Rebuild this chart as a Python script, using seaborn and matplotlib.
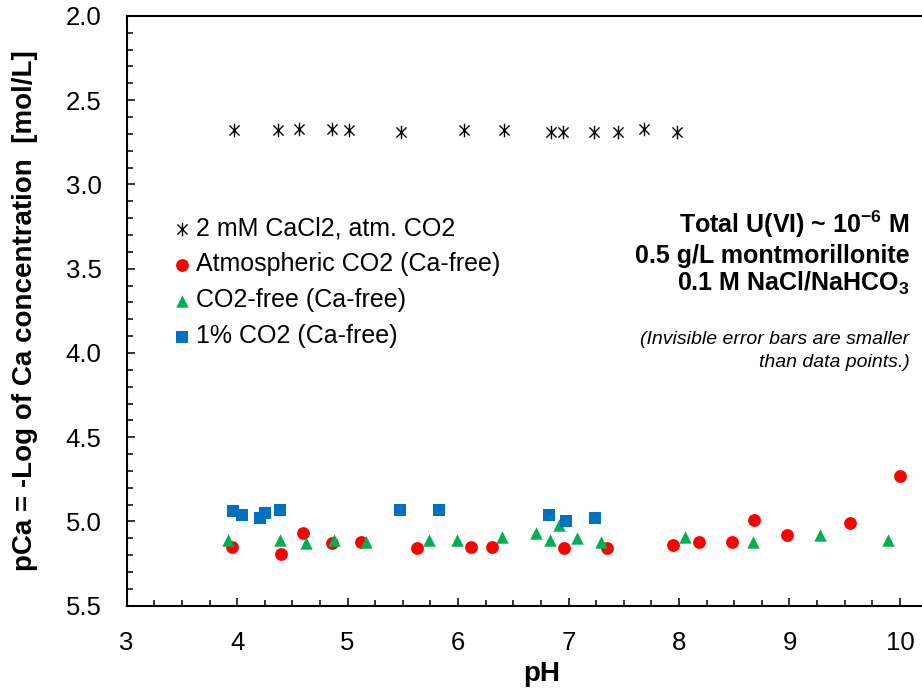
import matplotlib
matplotlib.use("Agg")
import matplotlib.pyplot as plt
from matplotlib.path import Path
from matplotlib.ticker import MultipleLocator
import seaborn as sns

# pH / pCa
ph_cacl2 = [3.97, 4.37, 4.56, 4.86, 5.01, 5.48, 6.05, 6.42, 6.84, 6.95, 7.23, 7.45, 7.68, 7.98]
pca_cacl2 = [2.68, 2.68, 2.67, 2.67, 2.68, 2.69, 2.68, 2.68, 2.69, 2.69, 2.69, 2.69, 2.67, 2.69]

ph_atm = [3.95, 4.40, 4.60, 4.86, 5.12, 5.63, 6.12, 6.31, 6.96, 7.35, 7.95, 8.18, 8.48, 8.68, 8.98, 9.55, 10.0]
pca_atm = [5.15, 5.19, 5.07, 5.13, 5.12, 5.16, 5.15, 5.15, 5.16, 5.16, 5.14, 5.12, 5.12, 4.99, 5.08, 5.01, 4.73]

ph_co2free = [3.92, 4.39, 4.62, 4.88, 5.17, 5.74, 5.99, 6.40, 6.71, 6.83, 6.91, 7.08, 7.29, 8.05, 8.67, 9.28, 9.89]
pca_co2free = [5.11, 5.11, 5.13, 5.11, 5.12, 5.11, 5.11, 5.09, 5.07, 5.11, 5.02, 5.10, 5.12, 5.09, 5.12, 5.08, 5.11]

ph_co2_1pct = [3.96, 4.04, 4.21, 4.25, 4.39, 5.47, 5.83, 6.82, 6.98, 7.24]
pca_co2_1pct = [4.94, 4.96, 4.98, 4.95, 4.93, 4.93, 4.93, 4.96, 5.00, 4.98]

labels = ["2 mM CaCl2, atm. CO2", "Atmospheric CO2 (Ca-free)",
          "CO2-free (Ca-free)", "1% CO2 (Ca-free)"]

sns.set_theme(style="white")
plt.rcParams["font.family"] = ["Liberation Sans", "DejaVu Sans"]
plt.rcParams["text.color"] = "black"
plt.rcParams["mathtext.fontset"] = "custom"
plt.rcParams["mathtext.rm"] = "Liberation Sans"
plt.rcParams["mathtext.bf"] = "Liberation Sans:bold"
plt.rcParams["mathtext.it"] = "Liberation Sans:italic"

# excel style asterisk: vertical bar plus an x
star = Path([(0, -1), (0, 1), (-0.75, -0.75), (0.75, 0.75), (-0.75, 0.75), (0.75, -0.75)],
            [Path.MOVETO, Path.LINETO] * 3)

fig, ax = plt.subplots(figsize=(9.22, 6.89), dpi=100)
fig.subplots_adjust(left=0.1374, right=1.0, bottom=0.1208, top=0.977)

sns.scatterplot(x=ph_cacl2, y=pca_cacl2, marker=star, s=95, color="black",
                edgecolor="black", linewidth=1.0, label=labels[0], ax=ax)
sns.scatterplot(x=ph_atm, y=pca_atm, marker="o", s=85, color="#FF0000",
                linewidth=0, label=labels[1], ax=ax)
sns.scatterplot(x=ph_co2free, y=pca_co2free, marker="^", s=80, color="#00B050",
                linewidth=0, label=labels[2], ax=ax)
sns.scatterplot(x=ph_co2_1pct, y=pca_co2_1pct, marker="s", s=68, color="#0070C0",
                linewidth=0, label=labels[3], ax=ax)

ax.set_xlim(3, 10.2)
ax.set_ylim(5.5, 2.0)
ax.xaxis.set_major_locator(MultipleLocator(1))
ax.xaxis.set_minor_locator(MultipleLocator(0.25))
ax.yaxis.set_major_locator(MultipleLocator(0.5))
ax.yaxis.set_minor_locator(MultipleLocator(0.1))
ax.yaxis.set_major_formatter(plt.FormatStrFormatter("%.1f"))

for side in ["top", "bottom", "left"]:
    ax.spines[side].set_color("black")
    ax.spines[side].set_linewidth(1.5)
ax.spines["right"].set_visible(False)

ax.tick_params(axis="both", which="major", direction="in", length=5.5, width=1.1,
               color="black", labelsize=18.5, labelcolor="black")
ax.tick_params(axis="both", which="minor", direction="in", length=4, width=1.1, color="black")
ax.tick_params(axis="x", which="both", bottom=True, top=False, pad=18)
ax.tick_params(axis="y", which="both", left=True, right=False, pad=18)

ax.set_xlabel("pH", fontsize=20, fontweight="bold", color="black")
ax.set_ylabel("pCa = -Log of Ca concentration  [mol/L]", fontsize=20,
              fontweight="bold", color="black")
ax.xaxis.set_label_coords(0.522, -0.093)
ax.yaxis.set_label_coords(-0.111, 0.5)

leg = ax.legend(loc="upper left", bbox_to_anchor=(0.055, 0.66), frameon=False,
                fontsize=18, handlelength=0.9, handletextpad=0.12, labelspacing=0.48,
                borderpad=0, borderaxespad=0)
for t in leg.get_texts():
    t.set_color("black")

ax.text(0.984, 0.632, r"Total U(VI) ~ 10$^{\mathbf{-6}}$ M", transform=ax.transAxes,
        ha="right", va="baseline", fontsize=18, fontweight="bold", color="black")
ax.text(0.984, 0.581, "0.5 g/L montmorillonite", transform=ax.transAxes,
        ha="right", va="baseline", fontsize=18, fontweight="bold", color="black")
ax.text(0.984, 0.5335, r"0.1 M NaCl/NaHCO$_{\mathbf{3}}$", transform=ax.transAxes,
        ha="right", va="baseline", fontsize=18, fontweight="bold", color="black")
ax.text(0.984, 0.4436, "(Invisible error bars are smaller", transform=ax.transAxes,
        ha="right", va="baseline", fontsize=14, style="italic", color="black")
ax.text(0.984, 0.4046, "than data points.)", transform=ax.transAxes,
        ha="right", va="baseline", fontsize=14, style="italic", color="black")

plt.savefig("out.png", dpi=100)
